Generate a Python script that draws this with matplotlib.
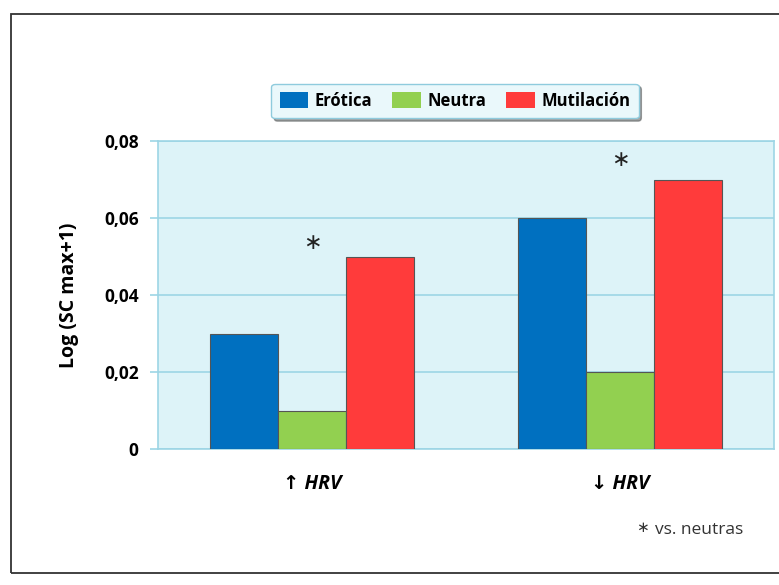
import matplotlib.pyplot as plt
import numpy as np
from matplotlib.patches import Rectangle

plt.rcParams['font.family'] = ['Open Sans', 'DejaVu Sans']

groups = ['↑ HRV', '↓ HRV']
series = ['Erótica', 'Neutra', 'Mutilación']
erotica = [0.03, 0.06]
neutra = [0.01, 0.02]
mutilacion = [0.05, 0.07]
colors = ['#0070C0', '#92D050', '#FF3B3B']
star_y = [0.0535, 0.0750]
yticks = [0, 0.02, 0.04, 0.06, 0.08]
ytick_labels = ['0', '0,02', '0,04', '0,06', '0,08']

fig = plt.figure(figsize=(7.79, 5.85), dpi=100)
# marco exterior
fig.add_artist(Rectangle((11 / 779, 12 / 585), 1.0, 559 / 585, transform=fig.transFigure,
                         fill=False, edgecolor='#333333', linewidth=1.3))

ax = fig.add_axes([158 / 779, 136 / 585, 616 / 779, 308 / 585])
ax.set_facecolor('#DDF3F8')
x = np.arange(len(groups))
w = 0.22
for i, (vals, c, name) in enumerate(zip([erotica, neutra, mutilacion], colors, series)):
    ax.bar(x + (i - 1) * w, vals, w, color=c, edgecolor='#555555', linewidth=0.8,
           label=name, zorder=3)

for xi, sy in zip(x, star_y):
    ax.text(xi, sy, '∗', ha='center', va='center', fontsize=16, color='#222222',
            family=['DejaVu Sans'])

ax.set_xlim(-0.5, 1.5)
ax.set_ylim(0, 0.08)
ax.set_yticks(yticks)
ax.set_yticklabels(ytick_labels, fontsize=12.5, fontweight='bold')
ax.grid(axis='y', color='#9DD5E5', linewidth=1.2, zorder=0)
ax.tick_params(axis='y', length=6, color='#9DD5E5', width=1.2, pad=8)
ax.set_xticks(x)
ax.set_xticklabels(groups, fontsize=14, fontweight='bold', style='italic')
ax.tick_params(axis='x', length=0, pad=18)
for s in ax.spines.values():
    s.set_color('#9DD5E5')
    s.set_linewidth(1.2)
ax.set_ylabel('Log (SC max+1)', fontsize=14, fontweight='bold', labelpad=18)

leg = ax.legend(loc='center', bbox_to_anchor=(455 / 779, 1 - 101 / 585),
                bbox_transform=fig.transFigure, ncol=3, fontsize=12, frameon=True,
                fancybox=True, shadow=True, handlelength=1.7, handleheight=1.1,
                columnspacing=1.2, handletextpad=0.4, borderpad=0.5)
leg.get_frame().set_facecolor('#EAF8FB')
leg.get_frame().set_edgecolor('#8FCBDD')
leg.get_frame().set_alpha(1)
for t in leg.get_texts():
    t.set_fontweight('bold')
for h in leg.legend_handles:
    h.set_edgecolor('none')

fig.text(636 / 779, 1 - 527 / 585, '∗', ha='left', va='center', fontsize=11,
         color='#333333', family=['DejaVu Sans'])
fig.text(655 / 779, 1 - 530 / 585, 'vs. neutras', ha='left', va='center', fontsize=12.5,
         color='#333333')

fig.savefig('out.png', dpi=100)
